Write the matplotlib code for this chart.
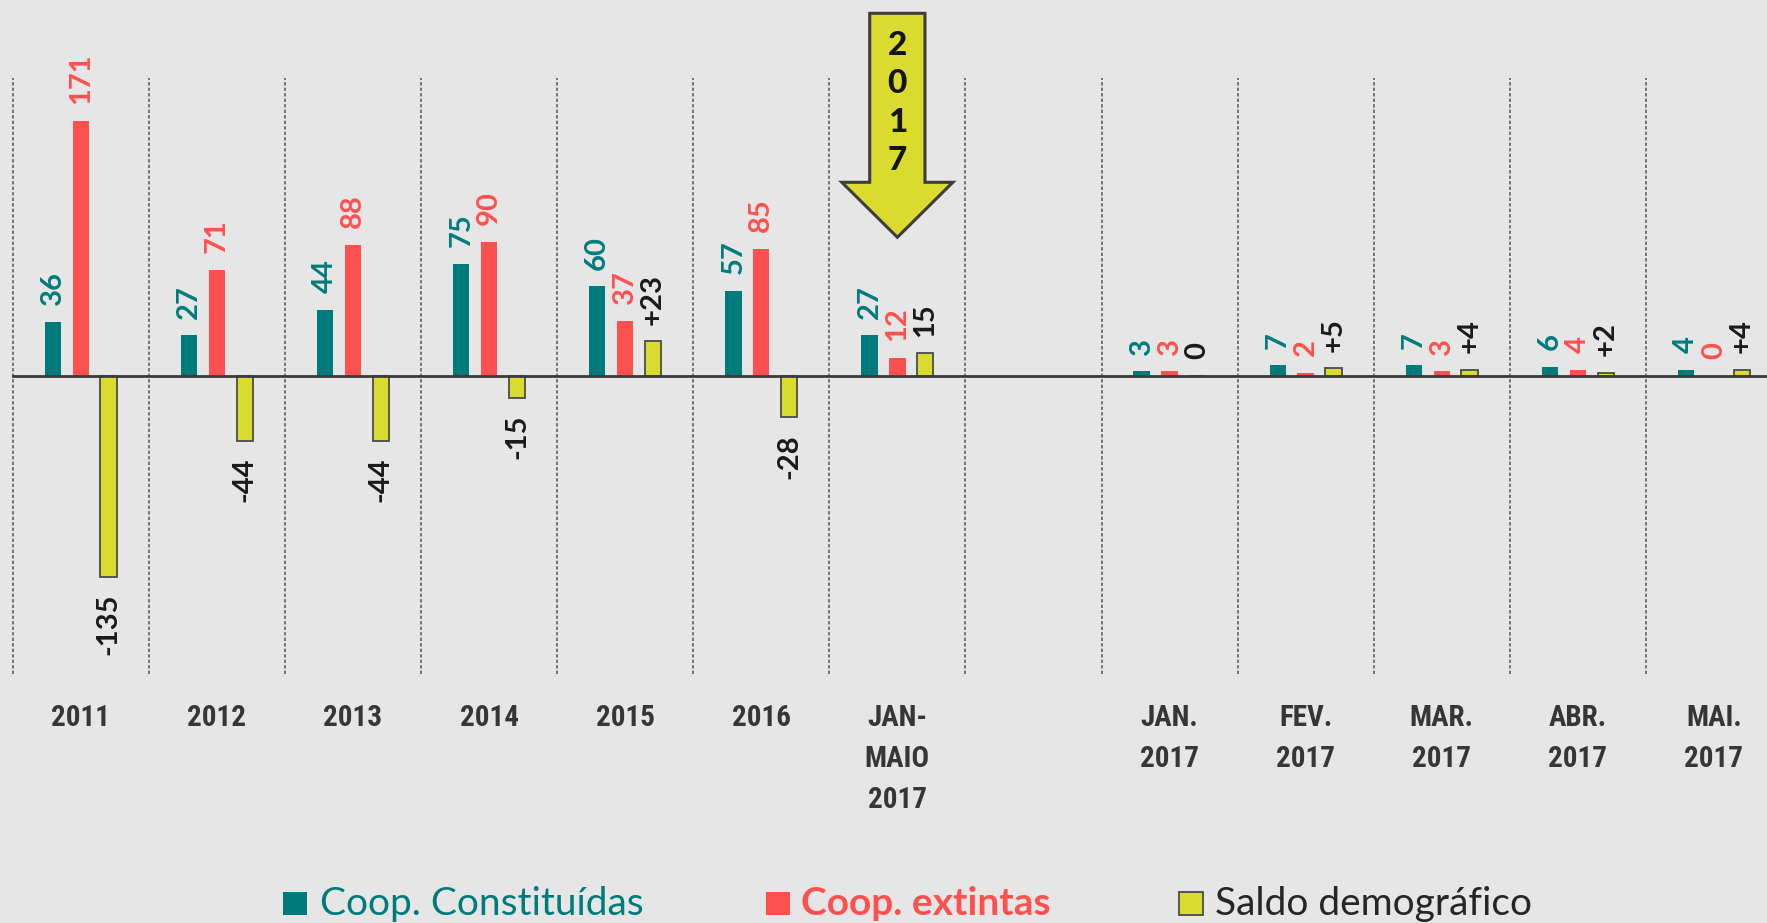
import numpy as np
import matplotlib
matplotlib.use('Agg')
import matplotlib.pyplot as plt
from matplotlib.patches import Rectangle, Polygon
from matplotlib.transforms import blended_transform_factory

# dados
categorias = ['2011', '2012', '2013', '2014', '2015', '2016', 'JAN-\nMAIO\n2017', '',
              'JAN.\n2017', 'FEV.\n2017', 'MAR.\n2017', 'ABR.\n2017', 'MAI.\n2017']
constituidas = [36, 27, 44, 75, 60, 57, 27, np.nan, 3, 7, 7, 6, 4]
extintas = [171, 71, 88, 90, 37, 85, 12, np.nan, 3, 2, 3, 4, 0]
saldo = [-135, -44, -44, -15, 23, -28, 15, np.nan, 0, 5, 4, 2, 4]
saldo_rotulos = ['-135', '-44', '-44', '-15', '+23', '-28', '15', '',
                 '0', '+5', '+4', '+2', '+4']
legenda = ['Coop. Constituídas', 'Coop. extintas', 'Saldo demográfico']

# cores
BG = '#e6e6e6'
TEAL = '#007b7b'
RED = '#ff5050'
YEL = '#d9db2e'
EDGE = '#4a4a4a'

W, H, DPI = 1767, 923, 100
X0, SLOT = 12.7, 136.1      # px da primeira separação, largura de cada categoria
BASE, PPU = 375.7, 1.49     # px da linha zero, px por unidade

fig = plt.figure(figsize=(W / DPI, H / DPI), dpi=DPI, facecolor=BG)
ax = fig.add_axes([0, 0, 1, 1], facecolor=BG)
ax.set_xlim(-0.5 - X0 / SLOT, (W - X0) / SLOT - 0.5)
ax.set_ylim(-(H - BASE) / PPU, BASE / PPU)
ax.axis('off')

x = np.arange(len(categorias))
c = np.array(constituidas, dtype=float)
e = np.array(extintas, dtype=float)
s = np.array(saldo, dtype=float)
dx, bw = 0.205, 0.12

# separadores pontilhados
ax.vlines(x - 0.5, -200, 200, colors='#555555', linestyles=(0, (2.2, 1.4)), linewidth=1.1, zorder=1)

ax.bar(x - dx, c, width=bw, color=TEAL, zorder=3)
ax.bar(x, e, width=bw, color=RED, zorder=3)
ax.bar(x + dx, s, width=bw, color=YEL, edgecolor=EDGE, linewidth=1.3, zorder=3)

# linha zero
ax.plot([-0.5, x[-1] + 1], [0, 0], color='#3a3a3a', linewidth=2.0, zorder=4)

# rótulos dos valores
vfont = dict(family=['Lato', 'DejaVu Sans'], fontsize=21, fontweight='bold', rotation=90)
for i in range(len(categorias)):
    if np.isnan(c[i]):
        continue
    ax.annotate(f'{int(c[i])}', (x[i] - dx, c[i]), xytext=(0, 12), textcoords='offset points',
                ha='center', va='bottom', color=TEAL, **vfont)
    ax.annotate(f'{int(e[i])}', (x[i], e[i]), xytext=(0, 12), textcoords='offset points',
                ha='center', va='bottom', color=RED, **vfont)
    if s[i] < 0:
        ax.annotate(saldo_rotulos[i], (x[i] + dx, s[i]), xytext=(0, -12), textcoords='offset points',
                    ha='center', va='top', color='#1a1a1a', **vfont)
    else:
        ax.annotate(saldo_rotulos[i], (x[i] + dx, s[i]), xytext=(0, 12), textcoords='offset points',
                    ha='center', va='bottom', color='#1a1a1a', **vfont)

# rótulos das categorias
tr = blended_transform_factory(ax.transData, fig.transFigure)
for i, cat in enumerate(categorias):
    ax.text(x[i], 1 - 704 / H, cat, transform=tr, ha='center', va='top',
            family=['Roboto Condensed', 'DejaVu Sans Condensed', 'Liberation Sans Narrow', 'Roboto'],
            fontstretch='condensed', fontweight='bold',
            fontsize=21, color='#363636', linespacing=1.6)

# seta "2017"
xa = x[6]
seta = [(xa - 0.203, 1 - 13.3 / H), (xa + 0.203, 1 - 13.3 / H), (xa + 0.203, 1 - 182.3 / H),
        (xa + 0.408, 1 - 182.3 / H), (xa, 1 - 237.3 / H), (xa - 0.408, 1 - 182.3 / H),
        (xa - 0.203, 1 - 182.3 / H)]
ax.add_patch(Polygon(seta, closed=True, transform=tr, facecolor=YEL, edgecolor='#3d3d3d',
                     linewidth=2.2, joinstyle='miter', zorder=5, clip_on=False))
for k, ch in enumerate('2017'):
    ax.text(xa, 1 - (45.5 + k * 38.3) / H, ch, transform=tr, ha='center', va='center',
            family=['Lato', 'DejaVu Sans'], fontsize=24, fontweight='black', color='#141414', zorder=6)

# legenda
itens = [(283, TEAL, 'none', legenda[0], TEAL, 'normal', 320),
         (766, RED, 'none', legenda[1], RED, 'bold', 801),
         (1179, YEL, EDGE, legenda[2], '#262626', 'normal', 1215)]
for xq, fc, ec, txt, tc, fw, xt in itens:
    fig.patches.append(Rectangle((xq / W, 1 - 915 / H), 24 / W, 23 / H, transform=fig.transFigure,
                                 facecolor=fc, edgecolor=ec, linewidth=1.3))
    fig.text(xt / W, 1 - 915 / H, txt, ha='left', va='baseline', color=tc, fontweight=fw,
             family=['Lato', 'DejaVu Sans'], fontsize=28)

fig.savefig('out.png', dpi=DPI, facecolor=BG)
